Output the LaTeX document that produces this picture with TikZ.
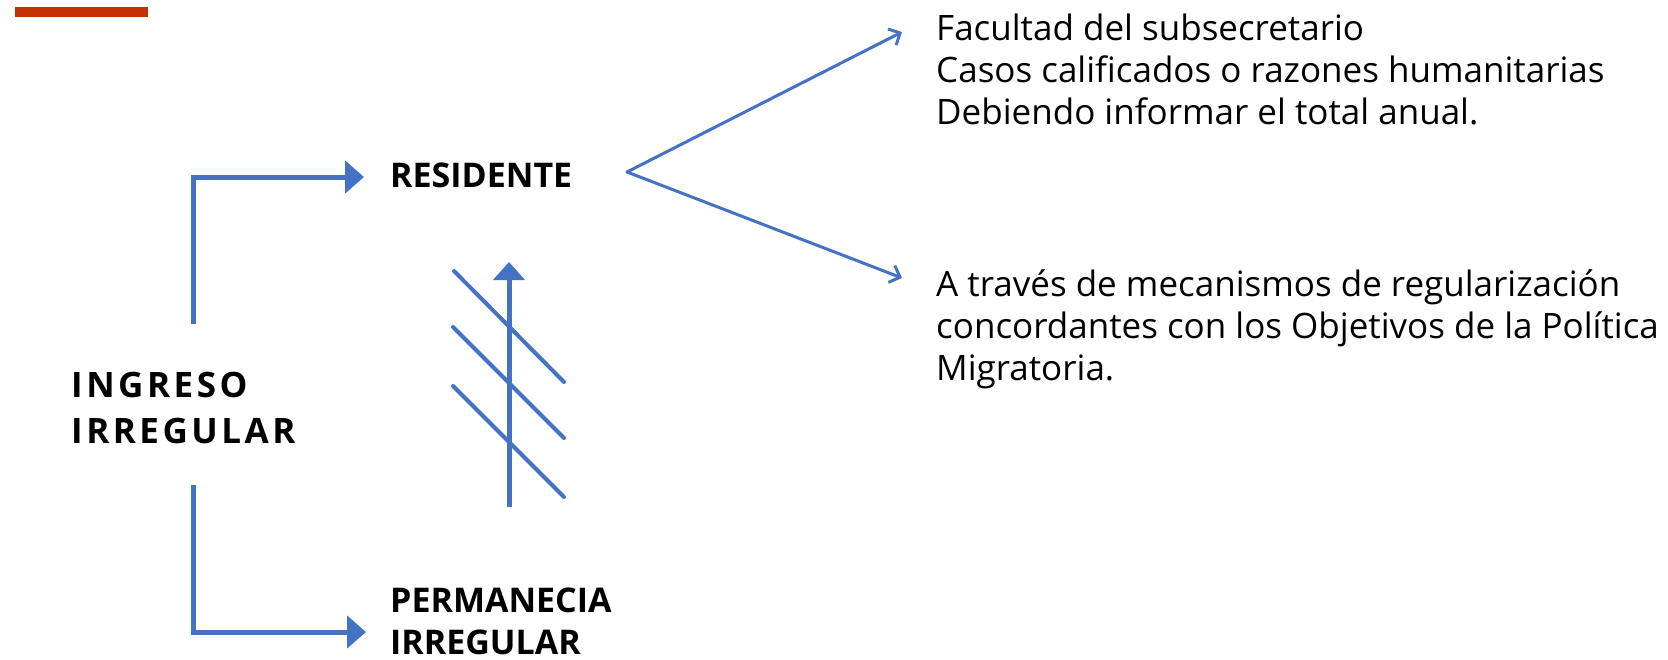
\documentclass[tikz,border=0pt]{standalone}
\usepackage{fontspec}
\setmainfont{Open Sans}
\usetikzlibrary{arrows.meta}
\definecolor{lineblue}{RGB}{68,114,196}
\definecolor{barred}{RGB}{195,50,0}
\tikzset{
  thickarrow/.style={draw=lineblue, line width=5pt, -{Triangle[length=19pt,width=32pt]}},
  thinarrow/.style={draw=lineblue, line width=3pt, line cap=round, -{Straight Barb[length=9pt,width=18pt,line width=3pt]}},
  hatch/.style={draw=lineblue, line width=4pt, line cap=round},
  bracketline/.style={draw=lineblue, line width=5pt},
  boldlabel/.style={inner sep=0pt, anchor=base west, font=\fontsize{34}{40}\selectfont\bfseries},
  biglabel/.style={inner sep=0pt, anchor=base west, font=\fontsize{35}{46}\selectfont\bfseries\addfontfeature{LetterSpace=10}},
  plain/.style={inner sep=0pt, anchor=base west, font=\fontsize{35}{42}\selectfont},
}
\begin{document}
\begin{tikzpicture}[x=1pt,y=-1pt]
\useasboundingbox (0,0) rectangle (1668,659);
% red bar
\fill[barred] (15,7) rectangle (148,17);
% labels
\node[biglabel] (ing1) at (71,397) {INGRESO};
\node[biglabel] (ing2) at (71,443) {IRREGULAR};
\node[boldlabel] (res) at (390,187) {RESIDENTE};
\node[boldlabel] (per1) at (390,612) {PERMANECIA};
\node[boldlabel] (per2) at (390,654) {IRREGULAR};
\node[plain] (fa1) at (936,40) {Facultad del subsecretario};
\node[plain] (fa2) at (936,82) {Casos calificados o razones humanitarias};
\node[plain] (fa3) at (936,124) {Debiendo informar el total anual.};
\node[plain] (at1) at (936,296) {A través de mecanismos de regularización};
\node[plain] (at2) at (936,338) {concordantes con los Objetivos de la Política};
\node[plain] (at3) at (936,380) {Migratoria.};
% bracket coordinates
\coordinate (topstart) at (193,324);
\coordinate (topcorner) at (193,177);
\coordinate (toptip) at (364,177);
\coordinate (botstart) at (193,485);
\coordinate (botcorner) at (193,632);
\coordinate (bottip) at (366,632);
\draw[bracketline] (topstart) -- ([yshift=2.5pt]topcorner);
\draw[thickarrow] ([xshift=-2.5pt]topcorner) -- (toptip);
\draw[bracketline] (botstart) -- ([yshift=-2.5pt]botcorner);
\draw[thickarrow] ([xshift=-2.5pt]botcorner) -- (bottip);
% crossed arrow
\coordinate (vbot) at (509,507);
\coordinate (vtop) at (509,262);
\draw[thickarrow, -{Triangle[length=18pt,width=31pt]}] (vbot) -- (vtop);
\draw[hatch] (454,271) -- (564,382);
\draw[hatch] (453,327) -- (564,438);
\draw[hatch] (453,386) -- (564,497);
% V
\coordinate (vx) at (627,172);
\coordinate (vup) at (902,32);
\coordinate (vdn) at (902,278);
\draw[thinarrow] (vx) -- (vup);
\draw[thinarrow] (vx) -- (vdn);
\end{tikzpicture}
\end{document}
